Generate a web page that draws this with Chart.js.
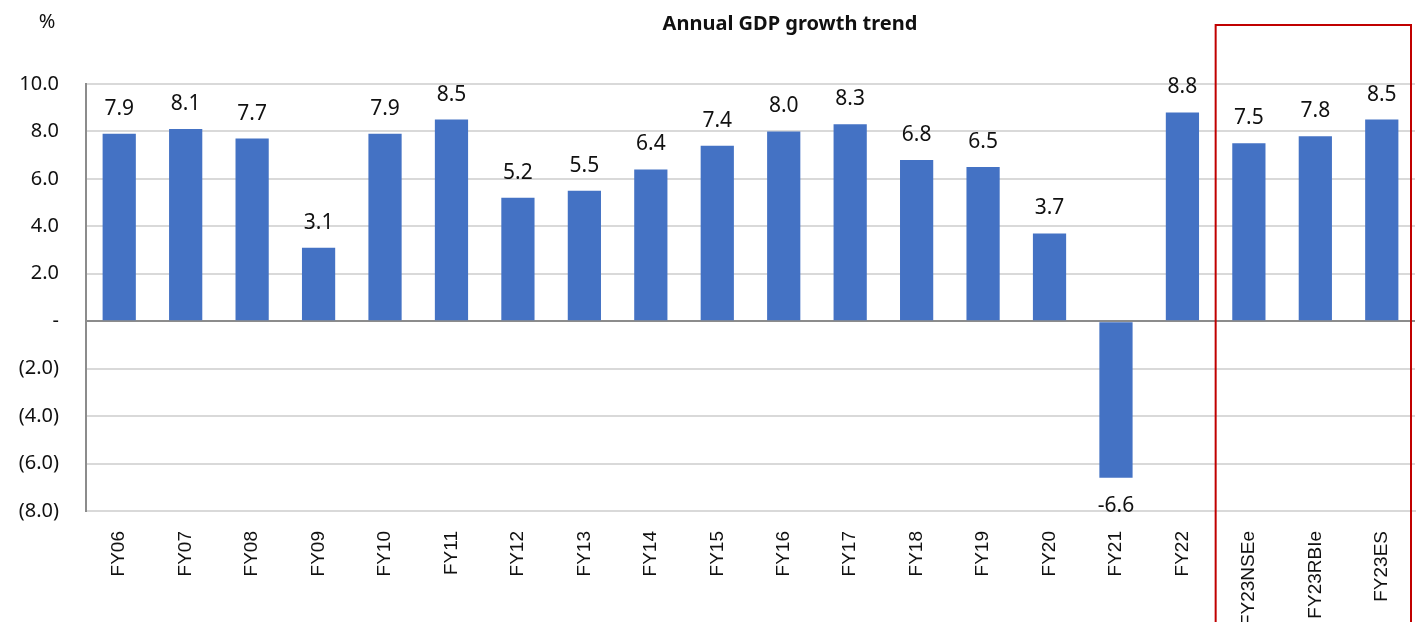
<!DOCTYPE html>
<html>
<head>
<meta charset="utf-8">
<style>
	body { margin: 0; background: #fff; }
	#wrap { width: 1419px; height: 622px; }
</style>
</head>
<body>
<div id="wrap">
	<canvas id="myChart" width="1419" height="622"></canvas>
</div>

<script src="https://cdn.jsdelivr.net/npm/chart.js"></script>
<script>

	const labels = ['FY06', 'FY07', 'FY08', 'FY09', 'FY10', 'FY11', 'FY12', 'FY13', 'FY14', 'FY15',
		'FY16', 'FY17', 'FY18', 'FY19', 'FY20', 'FY21', 'FY22', 'FY23NSEe', 'FY23RBIe', 'FY23ES']
	const growth = [7.9, 8.1, 7.7, 3.1, 7.9, 8.5, 5.2, 5.5, 6.4, 7.4,
		8.0, 8.3, 6.8, 6.5, 3.7, -6.6, 8.8, 7.5, 7.8, 8.5]
	const yTicks = [-8, -6, -4, -2, 0, 2, 4, 6, 8, 10]
	const chartTitle = 'Annual GDP growth trend'
	const unitLabel = '%'
	const highlightFrom = 'FY23NSEe'

	const fmtTick = v => {
		if (v === 0) return '-'
		if (v < 0) return '(' + Math.abs(v).toFixed(1) + ')'
		return v.toFixed(1)
	}

	// value labels, title, % and the red box round the estimates
	const extras = {
		id: 'extras',
		afterDatasetsDraw(chart) {
			const ctx = chart.ctx
			const meta = chart.getDatasetMeta(0)
			ctx.save()
			ctx.fillStyle = '#111'
			ctx.font = '21px "Noto Sans"'
			ctx.textAlign = 'center'
			ctx.textBaseline = 'middle'
			meta.data.forEach((bar, i) => {
				const v = growth[i]
				const y = v >= 0 ? bar.y - 25 : bar.y + 28
				ctx.fillText(v.toFixed(1), bar.x, y)
			})

			ctx.font = 'bold 20px "Noto Sans"'
			ctx.fillText(chartTitle, 790, 24)
			ctx.font = '20px "Noto Sans"'
			ctx.fillText(unitLabel, 47, 22)

			const x = chart.scales.x
			const idx = labels.indexOf(highlightFrom)
			const left = (x.getPixelForValue(idx - 1) + x.getPixelForValue(idx)) / 2
			const right = chart.chartArea.right - 4
			ctx.strokeStyle = '#C00000'
			ctx.lineWidth = 2
			ctx.beginPath()
			ctx.moveTo(left, 640)
			ctx.lineTo(left, 25)
			ctx.lineTo(right, 25)
			ctx.lineTo(right, 640)
			ctx.stroke()
			ctx.restore()
		}
	}

	const chart = new Chart(
		document.getElementById('myChart'),
		{
			type: 'bar',
			data: {
				labels: labels,
				datasets: [{
					label: 'GDP growth',
					data: growth,
					backgroundColor: '#4472C4',
					barPercentage: 0.5,
					categoryPercentage: 1.0,
				}]
			},
			options: {
				responsive: false,
				animation: false,
				layout: { padding: { top: 84, right: 4, left: 0, bottom: 0 } },
				plugins: {
					legend: { display: false },
					tooltip: { enabled: false },
				},
				scales: {
					x: {
						grid: { display: false, drawTicks: false },
						border: { color: '#d9d9d9', width: 2 },
						ticks: {
							minRotation: 90,
							maxRotation: 90,
							autoSkip: false,
							padding: 20,
							color: '#111',
							font: { family: '"Liberation Sans"', size: 19 },
						},
						afterFit(scale) {
							scale.height = 111
							scale.paddingLeft = 0
							scale.paddingRight = 0
						},
					},
					y: {
						min: -8,
						max: 10,
						afterBuildTicks(scale) { scale.ticks = yTicks.map(v => ({ value: v })) },
						grid: {
							drawTicks: false,
							lineWidth: 2,
							color: ctx => ctx.tick && ctx.tick.value === 0 ? '#8c8c8c' : '#d9d9d9',
						},
						border: { color: '#8c8c8c', width: 2 },
						ticks: {
							padding: 27,
							color: '#111',
							font: { family: '"Noto Sans"', size: 20 },
							callback: v => fmtTick(v),
						},
						afterFit(scale) { scale.width = 86 },
					}
				}
			},
			plugins: [extras]
		}
	)
</script>
</body>
</html>
